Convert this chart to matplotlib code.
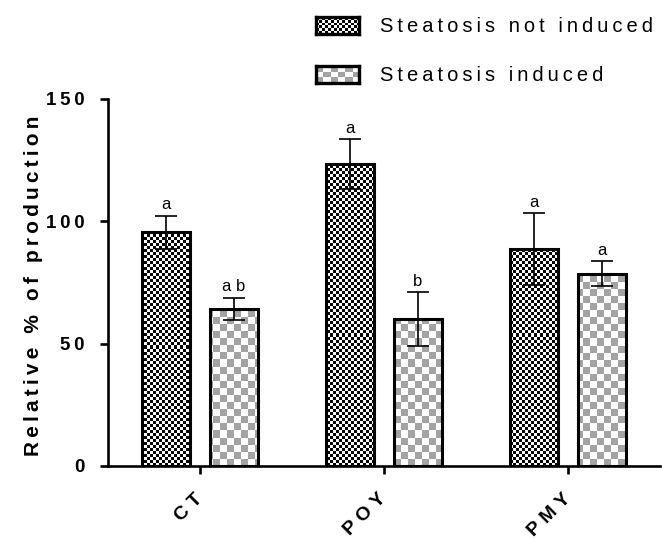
import numpy as np
import matplotlib
matplotlib.use('Agg')
import matplotlib.pyplot as plt

plt.rcParams['font.family'] = ['Liberation Sans', 'DejaVu Sans']

# data
groups = ['CT', 'POY', 'PMY']
not_induced = [95.5, 123.3, 88.6]
not_induced_err = [6.8, 10.2, 14.6]
induced = [64.2, 60.1, 78.6]
induced_err = [4.6, 11.1, 5.0]
letters_not = ['a', 'a', 'a']
letters_ind = ['a b', 'b', 'a']
yticks = [0, 50, 100, 150]


def spaced(s, sp='\u2009'):
    # prism style letter spacing
    return sp.join(s)


def checker(nx, ny):
    return np.indices((ny, nx)).sum(axis=0) % 2


fig = plt.figure(figsize=(6.62, 5.39), dpi=100)
ax = fig.add_axes([0.163, 0.1355, 0.834, 0.681])

x = np.arange(len(groups))
off = 0.185
w = 0.26
xlim = (-0.5, 2.5)
ylim = (0, 150)

bars1 = ax.bar(x - off, not_induced, w, facecolor='none', edgecolor='black',
               linewidth=2.2, zorder=3)
bars2 = ax.bar(x + off, induced, w, facecolor='none', edgecolor='black',
               linewidth=2.2, zorder=3)

dark = checker(184, 122)
light = checker(79, 52)
cm_dark = matplotlib.colors.ListedColormap(['black', 'white'])
cm_light = matplotlib.colors.ListedColormap(['#a3a3a3', 'white'])
for b in bars1:
    im = ax.imshow(dark, cmap=cm_dark, extent=(*xlim, *ylim), aspect='auto',
                   interpolation='nearest', zorder=2)
    im.set_clip_path(b)
for b in bars2:
    im = ax.imshow(light, cmap=cm_light, extent=(*xlim, *ylim), aspect='auto',
                   interpolation='nearest', zorder=2)
    im.set_clip_path(b)

ax.errorbar(x - off, not_induced, yerr=not_induced_err, fmt='none', ecolor='black',
            elinewidth=1.2, capsize=8, capthick=1.2, zorder=4)
ax.errorbar(x + off, induced, yerr=induced_err, fmt='none', ecolor='black',
            elinewidth=1.2, capsize=8, capthick=1.2, zorder=4)

for i in range(len(groups)):
    ax.text(x[i] - off, not_induced[i] + not_induced_err[i] + 1.3, letters_not[i],
            ha='center', va='bottom', fontsize=12)
    ax.text(x[i] + off, induced[i] + induced_err[i] + 1.3, letters_ind[i],
            ha='center', va='bottom', fontsize=12)

ax.set_xlim(*xlim)
ax.set_ylim(*ylim)
ax.spines['top'].set_visible(False)
ax.spines['right'].set_visible(False)
ax.spines['left'].set_linewidth(1.9)
ax.spines['bottom'].set_linewidth(1.9)
ax.tick_params(width=1.9, length=6)

ax.set_yticks(yticks)
ax.set_yticklabels([spaced(str(t)) for t in yticks], fontsize=13.5, fontweight='bold')
ax.tick_params(axis='y', pad=11)
ax.set_xticks(x)
ax.set_xticklabels([spaced(g, '\u2009\u200a') for g in groups], fontsize=14,
                   fontweight='bold', rotation=45, ha='right', va='center',
                   rotation_mode='anchor')
ax.tick_params(axis='x', pad=16)

ax.set_ylabel(spaced('Relative % of production'), fontsize=15, fontweight='bold')
ax.yaxis.set_label_coords(-0.118, 0.49)

# legend drawn by hand so the checker pattern shows
legend_items = [('Steatosis not induced', dark[:6, :15], cm_dark, 0.937),
                ('Steatosis induced', light[:3, :6], cm_light, 0.846)]
for label, pat, cm, y0 in legend_items:
    lax = fig.add_axes([0.477, y0, 0.065, 0.0315])
    lax.imshow(pat, cmap=cm, aspect='auto', interpolation='nearest')
    lax.set_xticks([])
    lax.set_yticks([])
    for s in lax.spines.values():
        s.set_linewidth(2.4)
    fig.text(0.574, y0 + 0.0145, spaced(label), fontsize=14.5, va='center', ha='left')

fig.savefig('out.png', dpi=100)
